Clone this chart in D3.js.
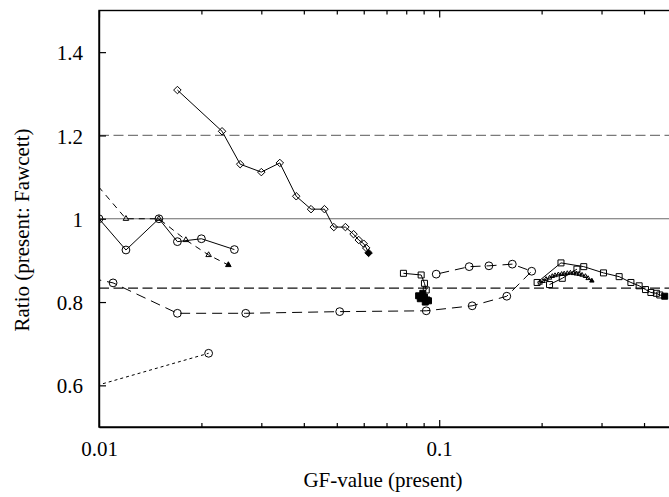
<!DOCTYPE html>
<html>
<head>
<meta charset="utf-8">
<script src="https://cdn.jsdelivr.net/npm/d3@7"></script>
<style>
  body { margin: 0; background: #fff; }
  svg { display: block; font-family: "Liberation Serif", "DejaVu Serif", serif; }
</style>
</head>
<body>
<svg id="chart" width="669" height="497"></svg>
<script>
// diamonds, solid line
const diamondGF    = [0.017, 0.023, 0.026, 0.030, 0.034, 0.038, 0.042, 0.046, 0.049, 0.053, 0.056, 0.058, 0.060, 0.061, 0.062];
const diamondRatio = [1.309, 1.210, 1.131, 1.112, 1.134, 1.054, 1.023, 1.023, 0.980, 0.980, 0.963, 0.949, 0.940, 0.930, 0.918];

// circles, solid line
const circleGF    = [0.010, 0.012, 0.015, 0.017, 0.020, 0.025];
const circleRatio = [1.000, 0.925, 1.000, 0.945, 0.952, 0.926];

// triangles, dashed line
const triGF    = [0.0095, 0.012, 0.015, 0.018, 0.021, 0.024];
const triRatio = [1.097, 1.000, 1.000, 0.949, 0.913, 0.889];

// circles, long dashes (loops back)
const loopGF    = [0.0095, 0.011, 0.017, 0.027, 0.051, 0.0916, 0.125, 0.158, 0.187, 0.164, 0.140, 0.1225, 0.098];
const loopRatio = [0.857, 0.846, 0.773, 0.773, 0.777, 0.779, 0.791, 0.814, 0.874, 0.891, 0.887, 0.885, 0.867];

// circles, dotted
const dotGF    = [0.0095, 0.021];
const dotRatio = [0.596, 0.677];

// squares near 0.09
const sqLeftGF    = [0.0785, 0.0885, 0.0905, 0.0916, 0.0895, 0.087, 0.088, 0.0905, 0.092, 0.091, 0.093];
const sqLeftRatio = [0.869, 0.865, 0.845, 0.829, 0.821, 0.815, 0.808, 0.812, 0.805, 0.800, 0.803];

// squares on the right
const sqRightGF    = [0.194, 0.228, 0.266, 0.304, 0.338, 0.366, 0.387, 0.404, 0.419, 0.435, 0.445, 0.460];
const sqRightRatio = [0.847, 0.894, 0.885, 0.870, 0.861, 0.847, 0.839, 0.830, 0.823, 0.821, 0.817, 0.814];

const sqMidGF    = [0.211, 0.230, 0.254];
const sqMidRatio = [0.842, 0.857, 0.879];

// small triangles forming an arc
const arcGF    = [0.198, 0.202, 0.206, 0.211, 0.215, 0.219, 0.224, 0.229, 0.233, 0.238, 0.243, 0.248, 0.253, 0.258, 0.263, 0.269, 0.274, 0.281];
const arcRatio = [0.846, 0.850, 0.855, 0.858, 0.862, 0.864, 0.866, 0.867, 0.868, 0.869, 0.870, 0.869, 0.868, 0.867, 0.865, 0.862, 0.857, 0.851];

// reference levels
const refLevels = [1.2, 1.0, 0.8333];

const xMajor = [0.01, 0.1];
const xMinor = [0.02, 0.03, 0.04, 0.05, 0.06, 0.07, 0.08, 0.09, 0.2, 0.3, 0.4];
const yTicks = [0.6, 0.8, 1.0, 1.2, 1.4];

const svg = d3.select("#chart");
const frame = { left: 99, top: 10.5, bottom: 427, right: 677 };
const serif = '"Liberation Serif", "DejaVu Serif", serif';

const x = d3.scaleLog().domain([0.01, 0.5]).range([frame.left, frame.right]);
const y = d3.scaleLinear().domain([0.5, 1.5]).range([frame.bottom, frame.top]);

svg.append("defs").append("clipPath").attr("id", "plotClip")
  .append("rect")
  .attr("x", frame.left).attr("y", frame.top)
  .attr("width", frame.right - frame.left).attr("height", frame.bottom - frame.top);

// reference lines
const refStyle = [
  { stroke: "#7a7a7a", dash: "10,4.5" },
  { stroke: "#6a6a6a", dash: null },
  { stroke: "#111", dash: "10,4.5" }
];
svg.append("g").selectAll("line")
  .data(refLevels)
  .join("line")
  .attr("x1", frame.left).attr("x2", frame.right)
  .attr("y1", d => y(d)).attr("y2", d => y(d))
  .attr("stroke", (d, i) => refStyle[i].stroke)
  .attr("stroke-width", 1.2)
  .attr("stroke-dasharray", (d, i) => refStyle[i].dash);

// axes
const fontSize = 21;
const yAxis = svg.append("g")
  .attr("transform", `translate(${frame.left},0)`)
  .call(d3.axisLeft(y).tickValues(yTicks).tickSizeInner(-7).tickSizeOuter(0).tickPadding(16)
    .tickFormat(d => d === 1 ? "1" : d3.format(".1f")(d)));
yAxis.attr("font-family", serif).attr("font-size", fontSize);
yAxis.selectAll("text").attr("dy", "0.36em");

const xAxis = svg.append("g")
  .attr("transform", `translate(0,${frame.bottom})`)
  .call(d3.axisBottom(x).tickValues(xMajor).tickSizeInner(-7).tickSizeOuter(0).tickPadding(14)
    .tickFormat(d => d === 0.01 ? "0.01" : "0.1"));
xAxis.attr("font-family", serif).attr("font-size", fontSize);

svg.append("g")
  .attr("transform", `translate(0,${frame.bottom})`)
  .call(d3.axisBottom(x).tickValues(xMinor).tickSizeInner(-4).tickSizeOuter(0).tickFormat(""))
  .select(".domain").remove();

svg.append("g")
  .attr("transform", `translate(0,${frame.top})`)
  .call(d3.axisTop(x).tickValues(xMajor).tickSizeInner(-7).tickSizeOuter(0).tickFormat(""))
  .select(".domain").remove();
svg.append("g")
  .attr("transform", `translate(0,${frame.top})`)
  .call(d3.axisTop(x).tickValues(xMinor).tickSizeInner(-4).tickSizeOuter(0).tickFormat(""))
  .select(".domain").remove();

svg.selectAll(".tick line").attr("stroke-width", 1.2);

// frame
svg.append("rect")
  .attr("x", frame.left).attr("y", frame.top)
  .attr("width", frame.right - frame.left).attr("height", frame.bottom - frame.top)
  .attr("fill", "none").attr("stroke", "#000").attr("stroke-width", 1.4);

// series
const series = [
  { gf: diamondGF, ratio: diamondRatio, marker: "diamond", dash: null, filledLast: true },
  { gf: circleGF, ratio: circleRatio, marker: "circle", dash: null, filledLast: false },
  { gf: triGF, ratio: triRatio, marker: "triangle", dash: "6,5", filledLast: true },
  { gf: loopGF, ratio: loopRatio, marker: "circle", dash: "10,6", filledLast: false },
  { gf: dotGF, ratio: dotRatio, marker: "circle", dash: "3,3", filledLast: false },
  { gf: sqLeftGF, ratio: sqLeftRatio, marker: "square", dash: null, filledLast: true, filledFrom: 4 },
  { gf: sqRightGF, ratio: sqRightRatio, marker: "square", dash: null, filledLast: true },
  { gf: sqMidGF, ratio: sqMidRatio, marker: "square", dash: null, filledLast: false },
  { gf: arcGF, ratio: arcRatio, marker: "smalltri", dash: null, filledLast: true }
];

const symbols = {
  circle: d3.symbol().type(d3.symbolCircle).size(48),
  diamond: d3.symbol().type(d3.symbolDiamond2).size(36),
  triangle: d3.symbol().type(d3.symbolTriangle2).size(22),
  smalltri: d3.symbol().type(d3.symbolTriangle2).size(14),
  square: d3.symbol().type(d3.symbolSquare2).size(46)
};

const line = d3.line().x(d => x(d[0])).y(d => y(d[1]));
const plot = svg.append("g").attr("clip-path", "url(#plotClip)");

series.forEach(s => {
  const pts = s.gf.map((g, i) => [g, s.ratio[i]]);
  plot.append("path")
    .datum(pts)
    .attr("fill", "none")
    .attr("stroke", "#000")
    .attr("stroke-width", 1)
    .attr("stroke-dasharray", s.dash)
    .attr("d", line);

  plot.append("g").selectAll("path")
    .data(pts)
    .join("path")
    .attr("transform", d => `translate(${x(d[0])},${y(d[1])})`)
    .attr("d", symbols[s.marker])
    .attr("fill", (d, i) => {
      const last = i === pts.length - 1;
      if (s.filledFrom !== undefined && i >= s.filledFrom) return "#000";
      return s.filledLast && last ? "#000" : "none";
    })
    .attr("stroke", "#000")
    .attr("stroke-width", 1);
});

// axis titles
svg.append("text")
  .attr("x", 383).attr("y", 487)
  .attr("text-anchor", "middle")
  .attr("font-size", fontSize)
  .text("GF-value (present)");

svg.append("text")
  .attr("transform", "translate(29,230) rotate(-90)")
  .attr("text-anchor", "middle")
  .attr("font-size", fontSize)
  .text("Ratio (present: Fawcett)");

svg.selectAll(".domain").attr("stroke-width", 1.4);
</script>
</body>
</html>
